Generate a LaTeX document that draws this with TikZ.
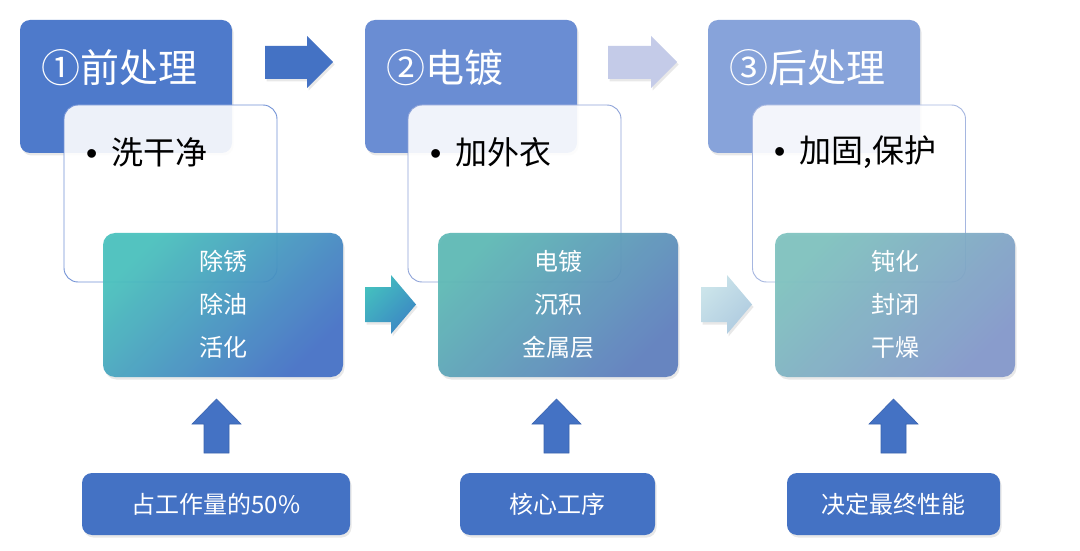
\documentclass[tikz,border=0pt]{standalone}
\usepackage{fontspec}
\setmainfont{Noto Sans CJK SC}
\newfontfamily\bulfont{Liberation Sans}
\usetikzlibrary{shadows}
\definecolor{bluemain}{HTML}{4472C4}
\definecolor{bluedark}{HTML}{3B64B0}
\definecolor{titleA}{HTML}{4E7ACB}
\definecolor{titleB}{HTML}{6A8DD3}
\definecolor{titleC}{HTML}{87A3DA}
\definecolor{borderA}{HTML}{7393D6}
\definecolor{borderB}{HTML}{8EA3D8}
\definecolor{borderC}{HTML}{A5B6E0}
\definecolor{tealA1}{HTML}{48C1BD}
\definecolor{tealA2}{HTML}{4470C6}
\definecolor{tealB1}{HTML}{5DB9B5}
\definecolor{tealB2}{HTML}{5E7EBE}
\definecolor{tealC1}{HTML}{7EC2BF}
\definecolor{tealC2}{HTML}{8297CA}
\definecolor{arrTealA1}{HTML}{44BEBF}
\definecolor{arrTealA2}{HTML}{3C86C4}
\definecolor{arrTealB1}{HTML}{CBE4EA}
\definecolor{arrTealB2}{HTML}{AFCBE0}
\definecolor{arrLight}{HTML}{C4CBE8}
\newcommand{\bul}{{\bulfont •}\hspace{14pt}}
\tikzset{
  softshadow/.style={drop shadow={shadow xshift=1.5pt, shadow yshift=-2.5pt, opacity=0.15, fill=black!60}},
  titlebox/.style={rounded corners=10pt, minimum width=212pt, minimum height=133pt, inner sep=0pt, softshadow},
  whitebox/.style={rounded corners=14pt, draw, line width=0.9pt, fill=white, fill opacity=0.9, minimum width=213pt, minimum height=177pt, inner sep=0pt},
  tealbox/.style={rounded corners=12pt, minimum width=240pt, minimum height=144pt, inner sep=0pt, softshadow},
  bottombox/.style={rounded corners=10pt, fill=bluemain, minimum height=62pt, text=white, font=\fontsize{24}{24}\selectfont, softshadow},
  titletext/.style={text=white, font=\fontsize{39}{39}\selectfont, anchor=west, inner sep=0pt},
  bullettext/.style={font=\fontsize{32}{32}\selectfont, anchor=west, inner sep=0pt},
  tealtext/.style={text=white, align=center, font=\fontsize{24}{43}\selectfont, inner sep=0pt},
  uparr/.style={fill=bluemain, draw=bluedark, line width=0.6pt},
}
\begin{document}
\begin{tikzpicture}[x=1pt,y=1pt]
\useasboundingbox (0,0) rectangle (1080,550);
\fill[white] (0,0) rectangle (1080,550);

% title boxes
\node[titlebox, fill=titleA] (t1) at (126,463.5) {};
\node[titlebox, fill=titleB] (t2) at (471,463.5) {};
\node[titlebox, fill=titleC] (t3) at (814,463.5) {};
\node[titletext] (t1l) at (41,482) {①前处理};
\node[titletext] (t2l) at (386,482) {②电镀};
\node[titletext] (t3l) at (729,482) {③后处理};

% top arrows
\fill[bluemain, softshadow] (265,471) -- (307,471) -- (307,462) -- (333,488) -- (307,514) -- (307,504) -- (265,504) -- cycle;
\fill[arrLight, softshadow] (608,471) -- (651,471) -- (651,462) -- (677,488) -- (651,514) -- (651,504) -- (608,504) -- cycle;

% white boxes
\node[whitebox, draw=borderA] (w1) at (170.5,356.5) {};
\node[whitebox, draw=borderB] (w2) at (514.5,356.5) {};
\node[whitebox, draw=borderC] (w3) at (859,356.5) {};
\node[bullettext] (w1l) at (86,398) {\bul 洗干净};
\node[bullettext] (w2l) at (430,398) {\bul 加外衣};
\node[bullettext] (w3l) at (774,398) {\bul 加固,保护};

% teal boxes
\node[tealbox, left color=tealA1, right color=tealA2, shading angle=45, fill opacity=0.93] (p1) at (223,245) {};
\node[tealbox, left color=tealB1, right color=tealB2, shading angle=45, fill opacity=0.93] (p2) at (558,245) {};
\node[tealbox, left color=tealC1, right color=tealC2, shading angle=45, fill opacity=0.93] (p3) at (895,245) {};
\node[tealtext] (p1l) at (223,246) {除锈\\除油\\活化};
\node[tealtext] (p2l) at (558,246) {电镀\\沉积\\金属层};
\node[tealtext] (p3l) at (895,246) {钝化\\封闭\\干燥};

% teal arrows
\shade[left color=arrTealA1, right color=arrTealA2, shading angle=45, softshadow] (365,228) -- (391,228) -- (391,216) -- (416,245.5) -- (391,275) -- (391,263) -- (365,263) -- cycle;
\shade[left color=arrTealB1, right color=arrTealB2, shading angle=45, softshadow] (701,228) -- (727,228) -- (727,216) -- (752,245.5) -- (727,275) -- (727,263) -- (701,263) -- cycle;

% up arrows
\draw[uparr] (204,97) -- (229,97) -- (229,126) -- (241,126) -- (216.5,151) -- (192,126) -- (204,126) -- cycle;
\draw[uparr] (544,97) -- (569,97) -- (569,126) -- (581,126) -- (556.5,151) -- (532,126) -- (544,126) -- cycle;
\draw[uparr] (881,97) -- (906,97) -- (906,126) -- (918,126) -- (893.5,151) -- (869,126) -- (881,126) -- cycle;

% bottom boxes
\node[bottombox, minimum width=268pt] (b1) at (216,46) {占工作量的50\%};
\node[bottombox, minimum width=195pt] (b2) at (557.5,46) {核心工序};
\node[bottombox, minimum width=213pt] (b3) at (893.5,46) {决定最终性能};
\end{tikzpicture}
\end{document}
